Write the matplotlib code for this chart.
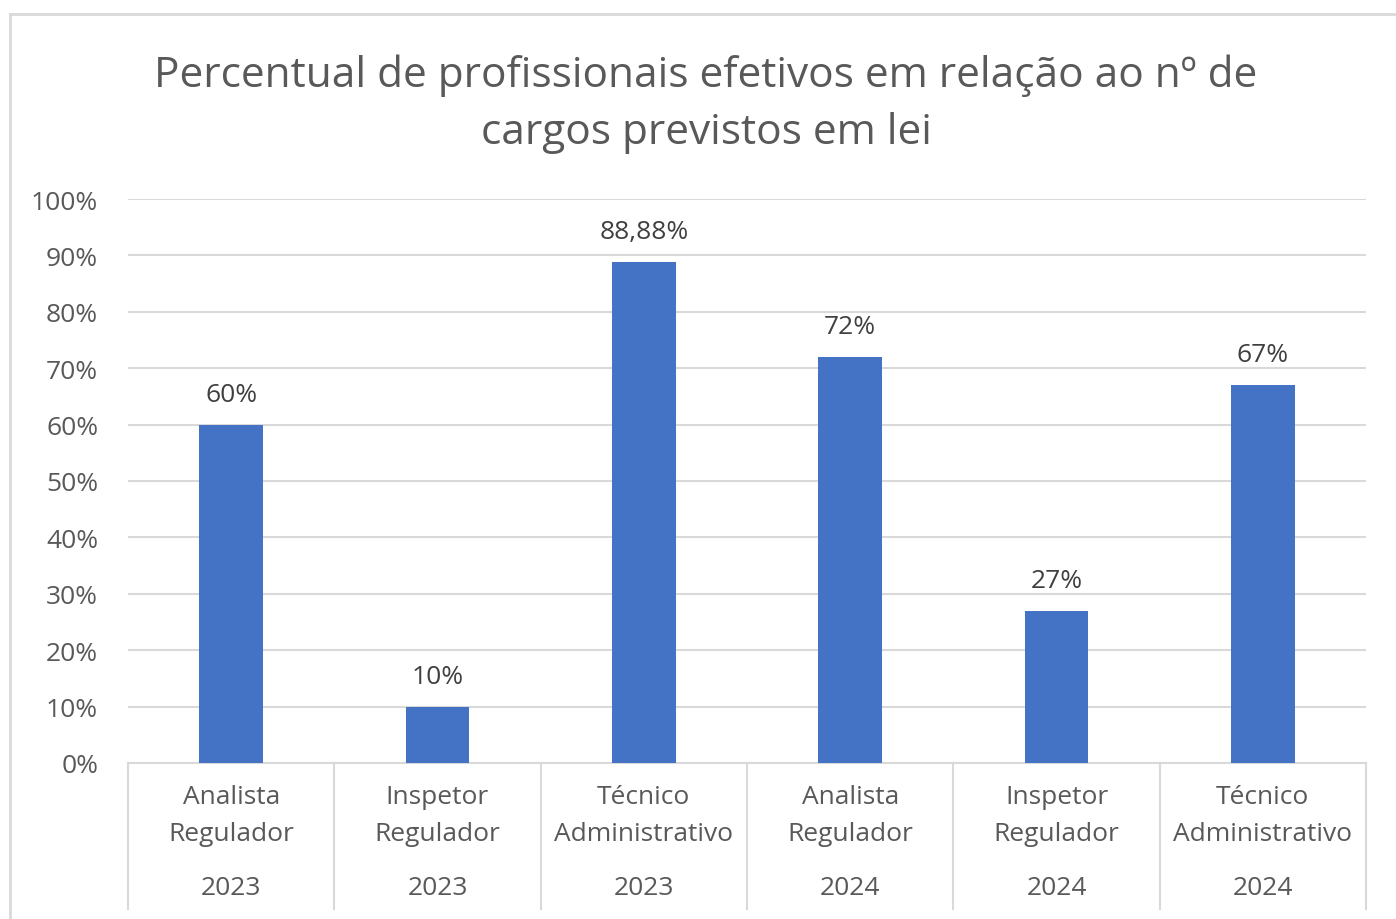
import matplotlib
matplotlib.use("Agg")
import matplotlib.pyplot as plt
from matplotlib.lines import Line2D

plt.rcParams['font.family'] = ['Open Sans', 'DejaVu Sans']

title = "Percentual de profissionais efetivos em relação ao nº de\ncargos previstos em lei"
roles = ["Analista\nRegulador", "Inspetor\nRegulador", "Técnico\nAdministrativo",
         "Analista\nRegulador", "Inspetor\nRegulador", "Técnico\nAdministrativo"]
years = ["2023", "2023", "2023", "2024", "2024", "2024"]
values = [60, 10, 88.88, 72, 27, 67]
value_labels = ["60%", "10%", "88,88%", "72%", "27%", "67%"]
yticks = [0, 10, 20, 30, 40, 50, 60, 70, 80, 90, 100]
ytick_labels = [f"{t}%" for t in yticks]

W, H = 1396, 920
fig = plt.figure(figsize=(W / 100, H / 100), dpi=100)
fig.patch.set_facecolor("white")

ax = fig.add_axes([128 / W, 1 - 764 / H, (1366 - 128) / W, (764 - 200) / H])
x = list(range(len(values)))
bar_color = "#4472C4"
ax.bar(x, values, width=0.31, color=bar_color, zorder=3)
ax.set_xlim(-0.5, len(values) - 0.5)
ax.set_ylim(0, 100)
ax.set_yticks(yticks)
ax.set_yticklabels(ytick_labels, fontsize=19, color="#595959")
ax.tick_params(axis="y", length=0, pad=21.5)
ax.set_xticks([])
for s in ["top", "right", "left"]:
    ax.spines[s].set_visible(False)
ax.spines["bottom"].set_color("#d9d9d9")
ax.spines["bottom"].set_linewidth(1.5)
ax.grid(axis="y", color="#d9d9d9", linewidth=1.5, zorder=0)
ax.set_axisbelow(True)

for xi, v, lab in zip(x, values, value_labels):
    ax.annotate(lab, (xi, v), xytext=(0, 13), textcoords="offset points",
                ha="center", va="bottom", fontsize=19, color="#404040")

trans = ax.get_xaxis_transform()
bottom_y = -(910 - 764) / 564
for i in range(len(values) + 1):
    ax.add_line(Line2D([i - 0.5, i - 0.5], [0, bottom_y], transform=trans,
                       color="#d9d9d9", linewidth=1.5, clip_on=False))
for xi, r, yr in zip(x, roles, years):
    ax.text(xi, -(816 - 764) / 564, r, transform=trans, ha="center", va="center",
            fontsize=19, color="#595959", linespacing=1.6)
    ax.text(xi, -(889 - 764) / 564, yr, transform=trans, ha="center", va="center",
            fontsize=19, color="#595959")

fig.text(706 / W, 1 - 104 / H, title, ha="center", va="center", fontsize=30.5,
         color="#595959", linespacing=1.48)

fig.add_artist(Line2D([10 / W, 10 / W], [1 - 15 / H, 0], transform=fig.transFigure,
                      color="#d9d9d9", linewidth=2))
fig.add_artist(Line2D([10 / W, 1], [1 - 15 / H, 1 - 15 / H], transform=fig.transFigure,
                      color="#d9d9d9", linewidth=2))

fig.savefig("out.png", dpi=100)
